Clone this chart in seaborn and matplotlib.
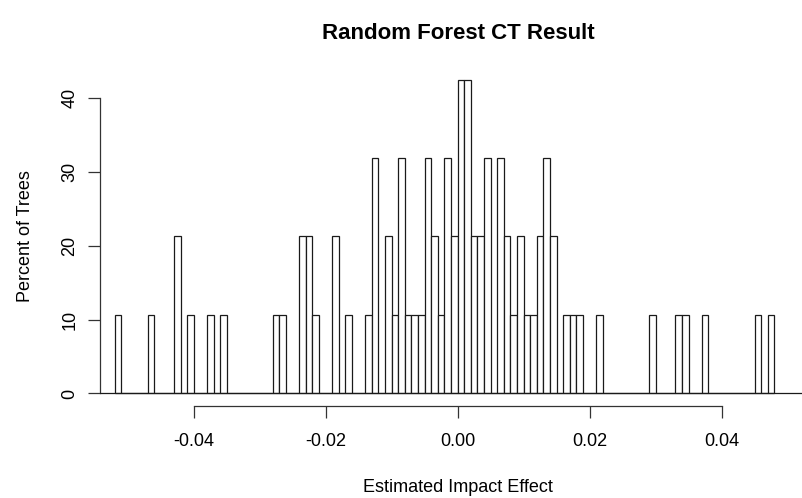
import numpy as np
import pandas as pd
import matplotlib
matplotlib.use("Agg")
import matplotlib.pyplot as plt
import seaborn as sns

# Bin left edges (Estimated Impact Effect) and bar heights (Percent of Trees)
bin_left = [-0.052, -0.047, -0.043, -0.041, -0.038, -0.036, -0.028, -0.027,
            -0.024, -0.023, -0.022, -0.019, -0.017, -0.014, -0.013, -0.011,
            -0.010, -0.009, -0.008, -0.007, -0.006, -0.005, -0.004, -0.003,
            -0.002, -0.001, 0.000, 0.001, 0.002, 0.003, 0.004, 0.006,
            0.007, 0.008, 0.009, 0.010, 0.011, 0.012, 0.013, 0.014,
            0.016, 0.017, 0.018, 0.021, 0.029, 0.033, 0.034, 0.037,
            0.045, 0.047]
percent = [10.64, 10.64, 21.28, 10.64, 10.64, 10.64, 10.64, 10.64,
           21.28, 21.28, 10.64, 21.28, 10.64, 10.64, 31.91, 21.28,
           10.64, 31.91, 10.64, 10.64, 10.64, 31.91, 21.28, 10.64,
           31.91, 21.28, 42.55, 42.55, 21.28, 21.28, 31.91, 31.91,
           21.28, 10.64, 21.28, 10.64, 10.64, 21.28, 31.91, 21.28,
           10.64, 10.64, 10.64, 10.64, 10.64, 10.64, 10.64, 10.64,
           10.64, 10.64]
bin_width = 0.001
x_ticks = [-0.04, -0.02, 0.00, 0.02, 0.04]
x_ticklabels = ["-0.04", "-0.02", "0.00", "0.02", "0.04"]
y_ticks = [0, 10, 20, 30, 40]

title = "Random Forest CT Result"
xlabel = "Estimated Impact Effect"
ylabel = "Percent of Trees"

sns.set_style("white")
plt.rcParams["font.family"] = ["Liberation Sans", "DejaVu Sans"]
plt.rcParams["text.color"] = "black"

df = pd.DataFrame({"effect": np.array(bin_left) + bin_width / 2,
                   "pct": percent})

fig = plt.figure(figsize=(8.02, 4.98), dpi=100)
ax = fig.add_axes([100 / 802, 1 - 406 / 498, 716 / 802, 339 / 498])

sns.histplot(data=df, x="effect", weights="pct", binwidth=bin_width,
             binrange=(min(bin_left), max(bin_left) + bin_width), ax=ax,
             color="white", edgecolor="#1a1a1a", linewidth=0.9, alpha=1.0)
ax.axhline(0, color="#1a1a1a", lw=0.9, zorder=5)

ax.set_xlim(-0.0542, 0.0543)
ax.set_ylim(-1.70, 44.25)

for s in ["top", "right"]:
    ax.spines[s].set_visible(False)
for s in ["left", "bottom"]:
    ax.spines[s].set_color("#333333")
    ax.spines[s].set_linewidth(0.9)
ax.spines["bottom"].set_bounds(-0.04, 0.04)
ax.spines["left"].set_bounds(0, 40)

ax.set_xticks(x_ticks)
ax.set_xticklabels(x_ticklabels)
ax.set_yticks(y_ticks)
ax.set_yticklabels([str(v) for v in y_ticks], rotation=90, va="center")
ax.tick_params(axis="both", direction="out", length=8.4, width=0.9,
               color="#333333", labelsize=13, labelcolor="black",
               bottom=True, left=True)
ax.tick_params(axis="x", pad=11)
ax.tick_params(axis="y", pad=7)
ax.grid(False)

ax.set_xlabel("")
ax.set_ylabel("")
ax.text(0.5, -0.239, xlabel, transform=ax.transAxes, ha="center",
        va="center", fontsize=13, color="black")
ax.text(-0.1047, 0.5, ylabel, transform=ax.transAxes, ha="center",
        va="center", rotation=90, fontsize=13, color="black")
ax.text(0.5, 1.10, title, transform=ax.transAxes, ha="center",
        va="center", fontsize=16, fontweight="bold", color="black")

fig.savefig("out.png", dpi=100)
